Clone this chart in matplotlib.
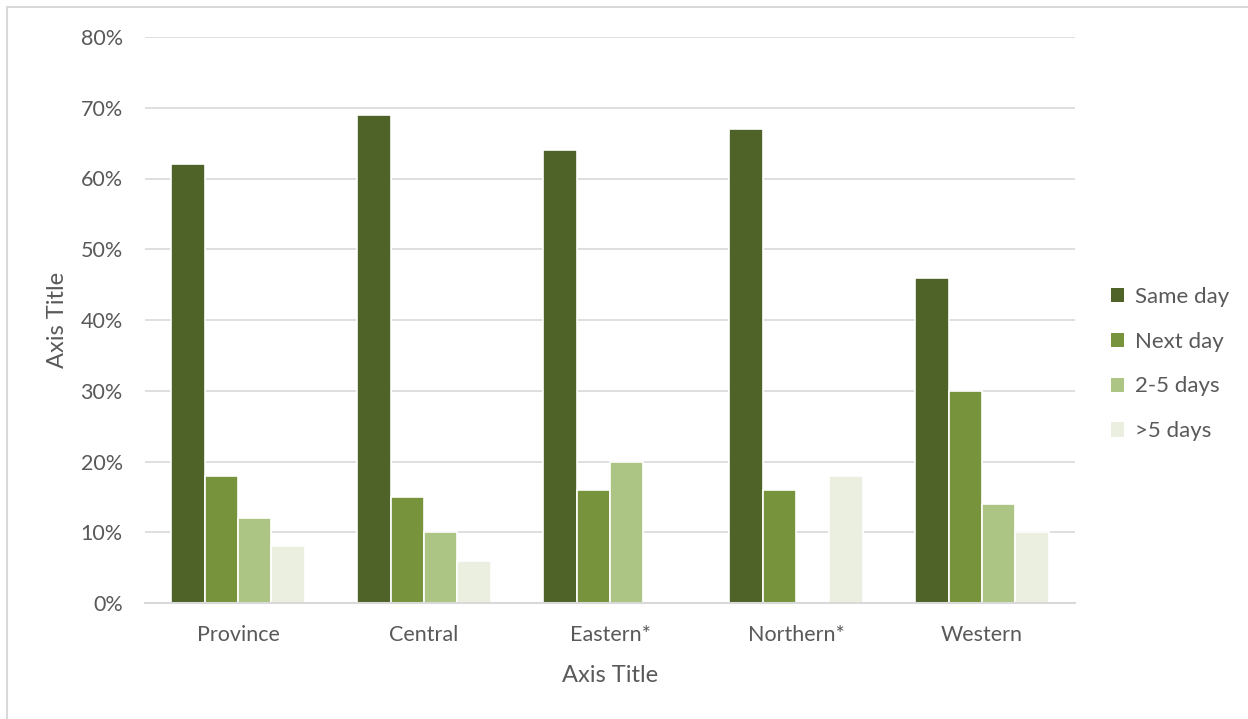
import matplotlib.pyplot as plt
import numpy as np
from matplotlib.patches import Rectangle, Patch
from matplotlib.ticker import PercentFormatter

plt.rcParams['font.family'] = ['Lato', 'DejaVu Sans']

regions = ["Province", "Central", "Eastern*", "Northern*", "Western"]
series_names = ["Same day", "Next day", "2-5 days", ">5 days"]
same_day = [62, 69, 64, 67, 46]
next_day = [18, 15, 16, 16, 30]
two_five_days = [12, 10, 20, 0, 14]
over_five_days = [8, 6, 0, 18, 10]
colors = ["#4F6228", "#77933C", "#ADC584", "#EBEFDF"]

text_color = "#595959"
grid_color = "#D9D9D9"

fig = plt.figure(figsize=(12.48, 7.19), dpi=100)
fig.patches.append(Rectangle((7 / 1248, -0.1), 1.2, 1.1 - 7 / 719, transform=fig.transFigure,
                             fill=False, edgecolor="#D9D9D9", linewidth=1.5, zorder=0))

ax = fig.add_axes([145 / 1248, (719 - 603) / 719, 930 / 1248, 566 / 719])

x = np.arange(len(regions))
group_width = 0.72
bar_w = group_width / 4
all_series = [same_day, next_day, two_five_days, over_five_days]
for i, (vals, col, name) in enumerate(zip(all_series, colors, series_names)):
    offs = -group_width / 2 + bar_w * (i + 0.5)
    ax.bar(x + offs, vals, width=bar_w, color=col, edgecolor="white",
           linewidth=1.2, label=name, zorder=3)

ax.set_xlim(-0.5, len(regions) - 0.5)
ax.set_ylim(0, 80)
ax.set_yticks(np.arange(0, 81, 10))
ax.yaxis.set_major_formatter(PercentFormatter(decimals=0))
ax.set_xticks(x)
ax.set_xticklabels(regions)

ax.grid(axis="y", color=grid_color, linewidth=1.2, zorder=0)
ax.set_axisbelow(True)
for side in ["top", "right", "left"]:
    ax.spines[side].set_visible(False)
ax.spines["bottom"].set_color(grid_color)
ax.spines["bottom"].set_linewidth(1.5)
ax.spines["bottom"].set_zorder(4)

ax.tick_params(axis="both", length=0, labelsize=15.5, colors=text_color)
ax.tick_params(axis="y", pad=16)
ax.tick_params(axis="x", pad=16)

ax.set_xlabel("Axis Title", fontsize=17, color=text_color, labelpad=14)
ax.set_ylabel("Axis Title", fontsize=17, color=text_color, labelpad=9)

handles = [Patch(facecolor=c, edgecolor="none") for c in colors]
leg = fig.legend(handles, series_names, loc="center left",
                 bbox_to_anchor=(1091 / 1248, 1 - 364 / 719), frameon=False,
                 fontsize=16, labelcolor=text_color, handlelength=0.6,
                 handleheight=0.6, handletextpad=0.5, labelspacing=1.12)

fig.savefig("out.png", dpi=100, facecolor="white")
